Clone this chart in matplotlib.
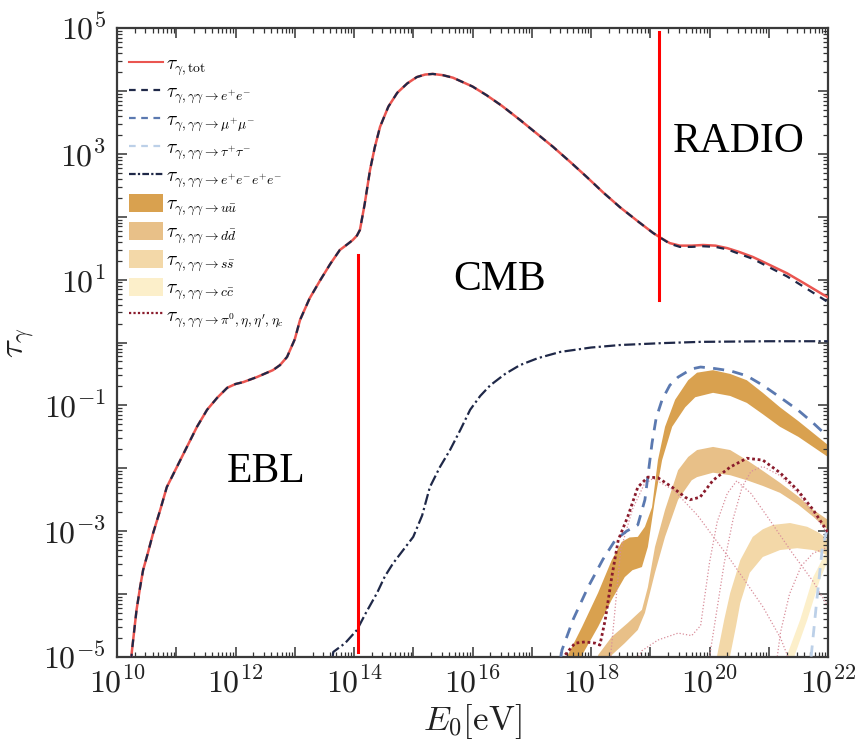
import numpy as np
import matplotlib
matplotlib.use("Agg")
import matplotlib.pyplot as plt
from matplotlib.patches import Patch
from matplotlib.lines import Line2D
from matplotlib.ticker import FixedLocator, FuncFormatter, LogLocator, NullFormatter

plt.rcParams['mathtext.fontset'] = 'cm'
plt.rcParams['font.family'] = ['Liberation Serif', 'DejaVu Serif']

# ---------------- data (log10 values) ----------------
# total and e+e- (shared energy grid)
logE_tot = [10.22, 10.25, 10.33, 10.39, 10.44, 10.52, 10.61, 10.73, 10.84, 11.01, 11.18, 11.35, 11.52,
            11.69, 11.86, 12.0, 12.13, 12.36, 12.63, 12.75, 12.87, 13.0, 13.09, 13.25, 13.43, 13.6,
            13.76, 13.9, 13.98, 14.05, 14.10, 14.18, 14.27, 14.35, 14.44, 14.58, 14.73, 14.9, 15.06,
            15.2, 15.33, 15.5, 15.67, 16.0, 16.24, 16.5, 16.8, 17.1, 17.36, 17.65, 17.93, 18.2, 18.49,
            18.8, 19.05, 19.2, 19.33, 19.5, 19.7, 19.89, 20.1, 20.3, 20.5, 20.73, 21.0, 21.31, 21.6,
            21.92, 22.0]
logtau_tot = [-5.3, -4.92, -4.25, -3.89, -3.62, -3.35, -3.03, -2.66, -2.30, -1.98, -1.66, -1.34, -1.07,
              -0.88, -0.72, -0.66, -0.63, -0.55, -0.44, -0.36, -0.23, 0.05, 0.36, 0.70, 0.99, 1.25,
              1.47, 1.57, 1.63, 1.70, 1.79, 2.20, 2.74, 3.10, 3.43, 3.75, 3.97, 4.12, 4.22,
              4.26, 4.27, 4.25, 4.21, 4.07, 3.93, 3.76, 3.54, 3.31, 3.11, 2.87, 2.63, 2.39, 2.15,
              1.92, 1.74, 1.65, 1.58, 1.54, 1.54, 1.55, 1.54, 1.50, 1.44, 1.36, 1.24, 1.10, 0.94,
              0.76, 0.72]
logtau_ee = [-5.3, -4.92, -4.25, -3.89, -3.62, -3.35, -3.03, -2.66, -2.30, -1.98, -1.66, -1.34, -1.07,
             -0.88, -0.72, -0.66, -0.63, -0.55, -0.44, -0.36, -0.23, 0.05, 0.36, 0.70, 0.99, 1.25,
             1.47, 1.57, 1.63, 1.70, 1.79, 2.20, 2.74, 3.10, 3.43, 3.75, 3.97, 4.12, 4.22,
             4.26, 4.27, 4.25, 4.21, 4.07, 3.93, 3.76, 3.54, 3.31, 3.11, 2.87, 2.63, 2.39, 2.15,
             1.92, 1.74, 1.65, 1.57, 1.52, 1.52, 1.53, 1.52, 1.48, 1.41, 1.33, 1.20, 1.05, 0.88,
             0.69, 0.64]

# double pair production e+e-e+e-
logE_4e = [13.6, 13.65, 13.85, 14.05, 14.2, 14.39, 14.52, 14.66, 14.83, 15.0, 15.15, 15.28, 15.45,
           15.62, 15.8, 15.96, 16.13, 16.3, 16.55, 16.8, 17.1, 17.48, 18.0, 18.49, 19.2, 19.84, 21.0, 22.0]
logtau_4e = [-5.3, -4.92, -4.78, -4.57, -4.3, -3.98, -3.72, -3.51, -3.3, -3.09, -2.75, -2.30, -1.98,
             -1.71, -1.38, -1.07, -0.85, -0.68, -0.50, -0.36, -0.25, -0.15, -0.08, -0.04, -0.01, 0.01, 0.02, 0.02]

# mu+ mu-
logE_mumu = [17.44, 17.51, 17.70, 17.95, 18.2, 18.41, 18.6, 18.79, 18.91, 18.97, 19.03, 19.1, 19.2,
             19.33, 19.47, 19.7, 19.85, 20.06, 20.35, 20.63, 20.9, 21.19, 21.5, 21.75, 22.0]
logtau_mumu = [-5.3, -4.89, -4.40, -3.89, -3.45, -3.14, -3.0, -2.90, -2.50, -2.05, -1.60, -1.20, -0.91,
               -0.68, -0.55, -0.42, -0.39, -0.41, -0.45, -0.53, -0.68, -0.87, -1.08, -1.28, -1.50]

# tau+ tau-
logE_tautau = [21.68, 21.72, 21.80, 21.90, 22.0]
logtau_tautau = [-5.3, -4.95, -4.2, -3.3, -2.9]

# quark bands: (E, lower, upper)
logE_uu_hi = [17.58, 17.61, 17.85, 18.12, 18.35, 18.52, 18.65, 18.79, 18.91, 19.03, 19.13, 19.25, 19.42,
              19.64, 19.79, 20.06, 20.35, 20.63, 20.9, 21.19, 21.5, 21.75, 22.0]
logtau_uu_hi = [-5.3, -4.97, -4.52, -3.98, -3.46, -3.17, -3.10, -3.09, -2.93, -2.62, -1.87, -1.34, -0.91,
                -0.60, -0.48, -0.44, -0.50, -0.60, -0.80, -1.03, -1.25, -1.44, -1.63]
logE_uu_lo = [17.82, 17.85, 18.12, 18.35, 18.57, 18.7, 18.86, 18.96, 19.08, 19.20, 19.37, 19.59, 19.76,
              20.06, 20.35, 20.63, 20.9, 21.19, 21.5, 21.75, 22.0]
logtau_uu_lo = [-5.3, -4.97, -4.52, -4.09, -3.73, -3.62, -3.57, -3.25, -2.50, -1.87, -1.34, -1.03, -0.87,
                -0.80, -0.85, -0.96, -1.14, -1.34, -1.50, -1.66, -1.82]

logE_dd_hi = [18.08, 18.12, 18.35, 18.62, 18.86, 18.96, 19.08, 19.25, 19.47, 19.64, 19.79, 20.06, 20.35,
              20.63, 20.9, 21.19, 21.5, 21.75, 22.0]
logtau_dd_hi = [-5.3, -4.97, -4.68, -4.46, -4.25, -3.89, -3.25, -2.66, -2.03, -1.82, -1.71, -1.66, -1.71,
                -1.87, -2.04, -2.23, -2.45, -2.66, -2.82]
logE_dd_lo = [18.31, 18.35, 18.57, 18.79, 18.91, 19.08, 19.25, 19.47, 19.70, 19.79, 20.06, 20.35, 20.63,
              20.9, 21.19, 21.5, 21.75, 22.0]
logtau_dd_lo = [-5.3, -4.97, -4.78, -4.57, -4.30, -3.66, -3.09, -2.50, -2.19, -2.14, -2.07, -2.11, -2.19,
                -2.28, -2.39, -2.58, -2.77, -2.98]

logE_ss_hi = [20.10, 20.13, 20.25, 20.35, 20.52, 20.73, 20.9, 21.07, 21.36, 21.65, 21.86, 22.0]
logtau_ss_hi = [-5.3, -4.97, -4.40, -3.98, -3.46, -3.09, -2.97, -2.90, -2.87, -2.93, -3.03, -3.14]
logE_ss_lo = [20.32, 20.35, 20.45, 20.52, 20.68, 20.90, 21.19, 21.48, 21.75, 22.0]
logtau_ss_lo = [-5.3, -4.97, -4.50, -4.14, -3.66, -3.41, -3.30, -3.27, -3.30, -3.38]

logE_cc_hi = [21.28, 21.31, 21.53, 21.75, 22.0]
logtau_cc_hi = [-5.3, -4.97, -4.41, -3.73, -3.27]
logE_cc_lo = [21.41, 21.44, 21.65, 21.86, 22.0]
logtau_cc_lo = [-5.3, -4.97, -4.41, -3.78, -3.46]

# mesons (sum and components)
logE_mes = [17.45, 17.56, 17.73, 17.90, 18.07, 18.15, 18.24, 18.35, 18.46, 18.62, 18.79, 18.96, 19.13,
            19.37, 19.59, 19.67, 19.84, 20.06, 20.35, 20.63, 20.90, 21.19, 21.48, 21.75, 22.0]
logtau_mes = [-5.3, -4.97, -4.78, -4.76, -4.78, -4.81, -4.41, -3.73, -3.14, -2.77, -2.30, -2.14, -2.15,
              -2.30, -2.46, -2.50, -2.46, -2.19, -1.98, -1.84, -1.87, -2.07, -2.34, -2.66, -3.02]
logE_pi0 = [18.3, 18.5, 18.7, 18.9, 19.05, 19.4, 19.8, 20.35, 20.9, 21.2, 21.45]
logtau_pi0 = [-5.3, -3.3, -2.65, -2.25, -2.16, -2.35, -2.75, -3.45, -4.2, -4.7, -5.3]
logE_eta = [18.6, 18.86, 19.13, 19.47, 19.7, 19.85, 20.0, 20.13, 20.3, 20.46, 20.7, 21.0, 21.4, 21.75, 22.0]
logtau_eta = [-5.3, -4.9, -4.73, -4.62, -4.66, -4.5, -3.5, -2.85, -2.4, -2.2, -2.4, -2.8, -3.35, -3.8, -4.2]
logE_etap = [19.95, 20.1, 20.25, 20.4, 20.55, 20.7, 20.9, 21.2, 21.5, 21.75, 22.0]
logtau_etap = [-5.3, -4.4, -3.5, -2.8, -2.3, -2.05, -1.97, -2.12, -2.4, -2.72, -3.05]
logE_etac = [21.1, 21.2, 21.35, 21.55, 21.75, 22.0]
logtau_etac = [-5.3, -4.6, -4.0, -3.55, -3.35, -3.25]

# region boundaries and labels
bound_logE = [14.07, 19.15]
bound_logtau_lo = [-4.92, 0.68]
bound_logtau_hi = [1.39, 4.94]
region_names = ["EBL", "CMB", "RADIO"]
region_logE = [12.51, 16.45, 20.5]
region_logtau = [-2.06, 0.99, 3.19]

legend_labels = [
    r"$\tau_{\gamma,\mathrm{tot}}$",
    r"$\tau_{\gamma,\gamma\gamma\to e^{+}e^{-}}$",
    r"$\tau_{\gamma,\gamma\gamma\to \mu^{+}\mu^{-}}$",
    r"$\tau_{\gamma,\gamma\gamma\to \tau^{+}\tau^{-}}$",
    r"$\tau_{\gamma,\gamma\gamma\to e^{+}e^{-}e^{+}e^{-}}$",
    r"$\tau_{\gamma,\gamma\gamma\to u\bar{u}}$",
    r"$\tau_{\gamma,\gamma\gamma\to d\bar{d}}$",
    r"$\tau_{\gamma,\gamma\gamma\to s\bar{s}}$",
    r"$\tau_{\gamma,\gamma\gamma\to c\bar{c}}$",
    r"$\tau_{\gamma,\gamma\gamma\to \pi^{0},\eta,\eta',\eta_c}$",
]

def p(v):
    return np.power(10.0, np.asarray(v, dtype=float))

# ---------------- colours ----------------
c_tot = '#ea5550'
c_ee = '#1f2848'
c_mumu = '#5b79b0'
c_tautau = '#bcd0e8'
c_4e = '#1f2848'
c_uu = '#d9a14f'
c_dd = '#e8c088'
c_ss = '#f3d8a8'
c_cc = '#fcefca'
c_mes = '#8a1b2c'
c_mes_thin = '#d98e9b'

fig = plt.figure(figsize=(8.59, 7.49), dpi=100)
ax = fig.add_axes([117/859, 1-657/749, (828-117)/859, (657-28)/749])

def band(E_lo, t_lo, E_hi, t_hi, color):
    xs = np.concatenate([p(E_hi), p(E_lo)[::-1]])
    ys = np.concatenate([p(t_hi), p(t_lo)[::-1]])
    ax.fill(xs, ys, color=color, lw=0, zorder=1)

band(logE_cc_lo, logtau_cc_lo, logE_cc_hi, logtau_cc_hi, c_cc)
band(logE_ss_lo, logtau_ss_lo, logE_ss_hi, logtau_ss_hi, c_ss)
band(logE_dd_lo, logtau_dd_lo, logE_dd_hi, logtau_dd_hi, c_dd)
band(logE_uu_lo, logtau_uu_lo, logE_uu_hi, logtau_uu_hi, c_uu)

for le, lt in [(logE_pi0, logtau_pi0), (logE_eta, logtau_eta), (logE_etap, logtau_etap), (logE_etac, logtau_etac)]:
    ax.plot(p(le), p(lt), color=c_mes_thin, lw=0.9, ls=(0, (1, 1.6)), zorder=2)

ax.plot(p(logE_tot), p(logtau_tot), color=c_tot, lw=1.8, zorder=3)
ax.plot(p(logE_tot), p(logtau_ee), color=c_ee, lw=1.6, ls=(0, (3.5, 3)), zorder=4)
ax.plot(p(logE_mumu), p(logtau_mumu), color=c_mumu, lw=2.0, ls=(0, (4, 3)), zorder=3)
ax.plot(p(logE_tautau), p(logtau_tautau), color=c_tautau, lw=2.0, ls=(0, (4, 3)), zorder=3)
ax.plot(p(logE_4e), p(logtau_4e), color=c_4e, lw=1.6, ls=(0, (5, 1.5, 1, 1.5)), zorder=3)
ax.plot(p(logE_mes), p(logtau_mes), color=c_mes, lw=2.0, ls=(0, (1, 1)), zorder=3)

for be, lo, hi in zip(bound_logE, bound_logtau_lo, bound_logtau_hi):
    ax.plot([p(be), p(be)], [p(lo), p(hi)], color='#ff0000', lw=2.2, zorder=5)

for name, le, lt in zip(region_names, region_logE, region_logtau):
    ax.text(p(le), p(lt), name, fontsize=30, ha='center', va='center',
            family=['Liberation Serif', 'DejaVu Serif'], color='black', zorder=6)

ax.set_xscale('log')
ax.set_yscale('log')
ax.set_xlim(1e10, 1e22)
ax.set_ylim(1e-5, 1e5)

ax.xaxis.set_major_locator(FixedLocator(p(np.arange(10, 23))))
ax.yaxis.set_major_locator(FixedLocator(p(np.arange(-5, 6))))
ax.xaxis.set_minor_locator(LogLocator(base=10, subs=np.arange(2, 10), numticks=100))
ax.yaxis.set_minor_locator(LogLocator(base=10, subs=np.arange(2, 10), numticks=100))
ax.xaxis.set_minor_formatter(NullFormatter())
ax.yaxis.set_minor_formatter(NullFormatter())

def xfmt(v, pos):
    e = int(round(np.log10(v)))
    return r"$10^{%d}$" % e if e % 2 == 0 else ""

def yfmt(v, pos):
    e = int(round(np.log10(v)))
    return r"$10^{%d}$" % e if e % 2 != 0 else ""

ax.xaxis.set_major_formatter(FuncFormatter(xfmt))
ax.yaxis.set_major_formatter(FuncFormatter(yfmt))

ax.tick_params(which='both', direction='in', top=True, right=True, colors='#333333',
               labelcolor='#222222', labelsize=23)
ax.tick_params(which='major', length=7, width=1.1, pad=8)
ax.tick_params(which='minor', length=3.5, width=0.9)
for s in ax.spines.values():
    s.set_linewidth(1.6)
    s.set_color('#3a3a3a')

ax.set_xlabel(r"$E_0[\mathrm{eV}]$", fontsize=25, color='#222222', labelpad=2)
ax.set_ylabel(r"$\tau_\gamma$", fontsize=25, color='#222222', labelpad=4)

handles = [
    Line2D([], [], color=c_tot, lw=1.5),
    Line2D([], [], color=c_ee, lw=1.6, ls=(0, (3, 2.5))),
    Line2D([], [], color=c_mumu, lw=1.6, ls=(0, (3, 2.5))),
    Line2D([], [], color=c_tautau, lw=1.6, ls=(0, (3, 2.5))),
    Line2D([], [], color=c_4e, lw=1.6, ls=(0, (3, 1, 1, 1))),
    Patch(facecolor=c_uu, edgecolor='none'),
    Patch(facecolor=c_dd, edgecolor='none'),
    Patch(facecolor=c_ss, edgecolor='none'),
    Patch(facecolor=c_cc, edgecolor='none'),
    Line2D([], [], color=c_mes, lw=1.6, ls=(0, (1, 1))),
]
leg = ax.legend(handles, legend_labels, loc='upper left', frameon=False, fontsize=14,
                handlelength=1.75, handleheight=1.05, handletextpad=0.15, labelspacing=0.2,
                borderaxespad=0.0, borderpad=0.2, bbox_to_anchor=(0.012, 0.965))

fig.savefig('out.png', dpi=100)
